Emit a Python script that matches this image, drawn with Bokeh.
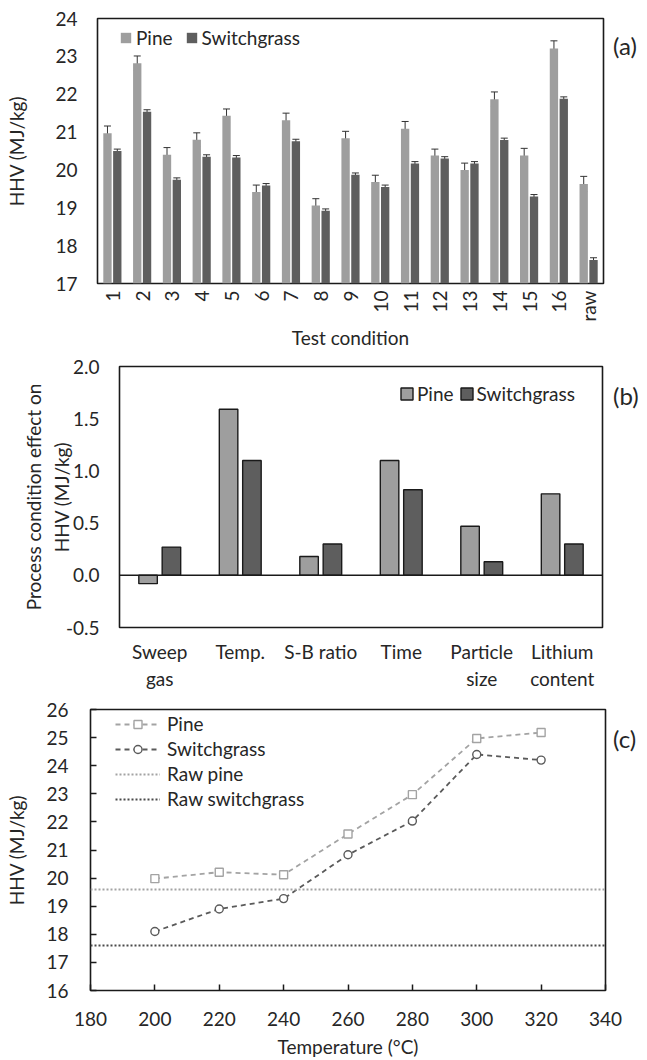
import math
from bokeh.plotting import figure
from bokeh.layouts import row
from bokeh.models import (ColumnDataSource, FactorRange, Range1d, Whisker, Span,
                          Legend, LegendItem, PrintfTickFormatter,
                          FixedTicker, TeeHead, Div)
from bokeh.transform import dodge
from bokeh.embed import file_html
from bokeh.resources import INLINE

FONT = "Lato"
TEXT = "#262626"
PINE_C = "#9e9e9e"
SG_C = "#5e5e5e"

# ---------------- data (a) ----------------
conditions = ["1", "2", "3", "4", "5", "6", "7", "8", "9", "10", "11", "12",
              "13", "14", "15", "16", "raw"]
pine_hhv = [20.97, 22.82, 20.40, 20.80, 21.43, 19.42, 21.31, 19.06, 20.84,
            19.68, 21.09, 20.38, 20.00, 21.87, 20.38, 23.21, 19.63]
sg_hhv = [20.50, 21.54, 19.74, 20.35, 20.33, 19.59, 20.76, 18.92, 19.87,
          19.55, 20.17, 20.30, 20.17, 20.79, 19.30, 21.88, 17.62]
pine_err = [0.19, 0.19, 0.19, 0.18, 0.18, 0.18, 0.19, 0.18, 0.18,
            0.18, 0.19, 0.17, 0.18, 0.19, 0.19, 0.20, 0.20]
sg_err = [0.05, 0.05, 0.05, 0.05, 0.05, 0.05, 0.05, 0.05, 0.05,
          0.05, 0.05, 0.05, 0.05, 0.05, 0.05, 0.05, 0.06]

# ---------------- data (b) ----------------
factors = ["Sweep\ngas", "Temp.", "S-B ratio", "Time", "Particle\nsize",
           "Lithium\ncontent"]
pine_effect = [-0.08, 1.59, 0.18, 1.10, 0.47, 0.78]
sg_effect = [0.27, 1.10, 0.30, 0.82, 0.13, 0.30]

# ---------------- data (c) ----------------
temps = [200, 220, 240, 260, 280, 300, 320]
pine_t = [19.98, 20.21, 20.12, 21.57, 22.97, 24.97, 25.18]
sg_t = [18.10, 18.90, 19.27, 20.83, 22.03, 24.40, 24.20]
raw_pine = [19.58]
raw_sg = [17.60]

panel_tags = ["(a)", "(b)", "(c)"]

PW = 630      # plot canvas width
TAGW = 34     # width of the panel-letter box
OVER = PW + TAGW - 647  # overlap of the letter box onto the plot border


def style_common(p):
    p.outline_line_color = "#1a1a1a"
    p.outline_line_width = 1.6
    p.xgrid.grid_line_color = None
    p.ygrid.grid_line_color = None
    p.background_fill_color = "white"
    p.border_fill_color = "white"
    for ax in p.axis:
        ax.major_label_text_font = FONT
        ax.major_label_text_font_size = "19px"
        ax.major_label_text_color = TEXT
        ax.axis_label_text_font = FONT
        ax.axis_label_text_font_size = "19px"
        ax.axis_label_text_font_style = "normal"
        ax.axis_label_text_color = TEXT
        ax.axis_line_color = None
        ax.minor_tick_line_color = None
        ax.major_tick_out = 0
        ax.major_tick_in = 0


def style_legend(lg):
    lg.label_text_font = FONT
    lg.label_text_font_size = "19px"
    lg.label_text_color = TEXT
    lg.border_line_color = None
    lg.background_fill_alpha = 0
    lg.padding = 0
    lg.margin = 0


def tag_box(txt, height, top):
    html = ('<div style="margin-top:%dpx;font-family:Lato;font-size:24px;'
            'line-height:29px;color:%s;white-space:nowrap">%s</div>' % (top, TEXT, txt))
    return Div(text=html, width=TAGW, height=height, margin=(0, 0, 0, -OVER))


# ================= panel (a) =================
pa = figure(width=PW, height=351, x_range=FactorRange(*conditions),
            y_range=Range1d(17, 24), output_backend="svg", toolbar_location=None,
            min_border_left=97, min_border_right=PW - 603, min_border_top=18,
            min_border_bottom=66)
src_a = ColumnDataSource(dict(
    cond=conditions, pine=pine_hhv, sg=sg_hhv,
    pu=[v + e for v, e in zip(pine_hhv, pine_err)],
    pl=[v - e for v, e in zip(pine_hhv, pine_err)],
    su=[v + e for v, e in zip(sg_hhv, sg_err)],
    sl=[v - e for v, e in zip(sg_hhv, sg_err)]))
base_a = pa.y_range.start
ra1 = pa.vbar(x=dodge("cond", -0.165, range=pa.x_range), top="pine", bottom=base_a,
              width=0.28, source=src_a, fill_color=PINE_C, line_color=None)
ra2 = pa.vbar(x=dodge("cond", 0.165, range=pa.x_range), top="sg", bottom=base_a,
              width=0.28, source=src_a, fill_color=SG_C, line_color=None)
for off, up, lo in [(-0.165, "pu", "pl"), (0.165, "su", "sl")]:
    pa.add_layout(Whisker(base=dodge("cond", off, range=pa.x_range), upper=up,
                          lower=lo, source=src_a, line_color="#333333", line_width=1,
                          upper_head=TeeHead(size=7, line_color="#333333", line_width=1),
                          lower_head=TeeHead(size=7, line_color="#333333", line_width=1)))
style_common(pa)
pa.yaxis.ticker = FixedTicker(ticks=list(range(17, 25)))
pa.yaxis.axis_label = "HHV (MJ/kg)"
pa.yaxis.major_label_standoff = 20
pa.yaxis.axis_label_standoff = 24
pa.xaxis.axis_label = "Test condition"
pa.xaxis.major_label_orientation = math.pi / 2
pa.xaxis.major_label_standoff = 7
pa.xaxis.axis_label_standoff = 1
lga = Legend(items=[LegendItem(label="Pine", renderers=[ra1]),
                    LegendItem(label="Switchgrass", renderers=[ra2])],
             orientation="horizontal", location=(22, 234))
style_legend(lga)
lga.glyph_width = 13
lga.glyph_height = 13
lga.label_standoff = 4
lga.spacing = 12
pa.add_layout(lga)

# ================= panel (b) =================
pb = figure(width=PW, height=344, x_range=FactorRange(*factors),
            y_range=Range1d(-0.5, 2.0), output_backend="svg", toolbar_location=None,
            min_border_left=119, min_border_right=PW - 602, min_border_top=15,
            min_border_bottom=68)
src_b = ColumnDataSource(dict(f=factors, pine=pine_effect, sg=sg_effect))
rb1 = pb.vbar(x=dodge("f", -0.145, range=pb.x_range), top="pine", bottom=0,
              width=0.23, source=src_b, fill_color=PINE_C, line_color="#1a1a1a",
              line_width=1.4)
rb2 = pb.vbar(x=dodge("f", 0.145, range=pb.x_range), top="sg", bottom=0,
              width=0.23, source=src_b, fill_color=SG_C, line_color="#1a1a1a",
              line_width=1.4)
pb.add_layout(Span(location=0, dimension="width", line_color="#1a1a1a",
                   line_width=1.4))
style_common(pb)
pb.yaxis.ticker = FixedTicker(ticks=[-0.5, 0.0, 0.5, 1.0, 1.5, 2.0])
pb.yaxis.formatter = PrintfTickFormatter(format="%.1f")
pb.yaxis.axis_label = "Process condition effect on\nHHV (MJ/kg)"
pb.yaxis.major_label_standoff = 20
pb.yaxis.axis_label_standoff = -10
pb.xaxis.major_label_standoff = 12
lgb = Legend(items=[LegendItem(label="Pine", renderers=[rb1]),
                    LegendItem(label="Switchgrass", renderers=[rb2])],
             orientation="horizontal", location=(280, 222))
style_legend(lgb)
lgb.glyph_width = 15
lgb.glyph_height = 15
lgb.label_standoff = 3
lgb.spacing = 5
pb.add_layout(lgb)

# ================= panel (c) =================
pc = figure(width=PW, height=365, x_range=Range1d(180, 340),
            y_range=Range1d(16, 26), output_backend="svg", toolbar_location=None,
            min_border_left=90, min_border_right=PW - 605, min_border_top=14,
            min_border_bottom=70)
lc1 = pc.line(temps, pine_t, line_color="#a3a3a3", line_dash="5 4", line_width=1.8)
sc1 = pc.scatter(temps, pine_t, marker="square", size=8, fill_color="white",
                 line_color="#a3a3a3", line_width=1.4)
lc2 = pc.line(temps, sg_t, line_color="#5a5a5a", line_dash="5 4", line_width=1.8)
sc2 = pc.scatter(temps, sg_t, marker="circle", size=8, fill_color="white",
                 line_color="#5a5a5a", line_width=1.4)
hc1 = pc.hspan(y=raw_pine, line_color="#a3a3a3", line_dash="2 2", line_width=2)
hc2 = pc.hspan(y=raw_sg, line_color="#4a4a4a", line_dash="2 2", line_width=2)
style_common(pc)
pc.xaxis.ticker = FixedTicker(ticks=list(range(180, 341, 20)))
pc.yaxis.ticker = FixedTicker(ticks=list(range(16, 27)))
for ax in pc.axis:
    ax.major_tick_in = 6
    ax.major_tick_out = 0
    ax.major_tick_line_color = "#1a1a1a"
    ax.major_tick_line_width = 1.5
pc.xaxis.axis_label = "Temperature (°C)"
pc.yaxis.axis_label = "HHV (MJ/kg)"
pc.yaxis.major_label_standoff = 22
pc.yaxis.axis_label_standoff = 15
pc.xaxis.major_label_standoff = 21
pc.xaxis.axis_label_standoff = 6
lgc = Legend(items=[LegendItem(label="Pine", renderers=[lc1, sc1]),
                    LegendItem(label="Switchgrass", renderers=[lc2, sc2]),
                    LegendItem(label="Raw pine", renderers=[hc1]),
                    LegendItem(label="Raw switchgrass", renderers=[hc2])],
             location=(25, 180))
style_legend(lgc)
lgc.glyph_width = 45
lgc.glyph_height = 20
lgc.label_standoff = 7
lgc.spacing = 2
pc.add_layout(lgc)

roots = [row(pa, tag_box(panel_tags[0], 351, 31)),
         row(pb, tag_box(panel_tags[1], 344, 30)),
         row(pc, tag_box(panel_tags[2], 365, 29))]
open("out.html", "w").write(file_html(roots, INLINE))
